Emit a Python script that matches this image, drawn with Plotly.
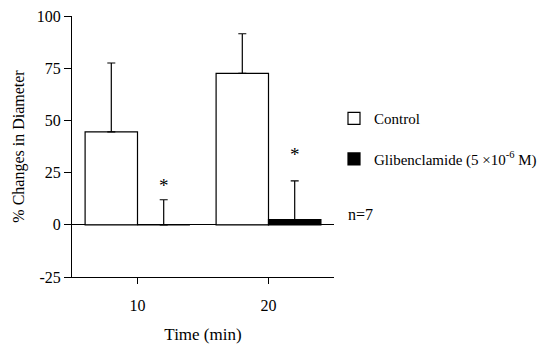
import plotly.graph_objects as go

times = [10, 20]
control = [44.5, 72.5]
control_err = [33, 19]
glib = [0, 2.5]
glib_err = [12, 18.5]
asterisk_y = [20, 34.5]
y_ticks = [-25, 0, 25, 50, 75, 100]
y_tick_labels = ["-25", "0", "25", "50", "75", "100"]
x_ticks = [10, 20]

FONT = "'Liberation Serif', 'Times New Roman', 'DejaVu Serif', serif"

fig = go.Figure()
fig.add_trace(go.Bar(
    x=times, y=control, name="Control", legendgroup="c",
    marker=dict(color="white", line=dict(color="black", width=1.2)),
    error_y=dict(type="data", symmetric=False, array=control_err,
                 arrayminus=[0, 0], color="black", thickness=1.2, width=4),
))
fig.add_trace(go.Bar(
    x=times, y=glib, name="Glibenclamide (5 ×10<sup>-6</sup> M)", legendgroup="g",
    marker=dict(color="black", line=dict(color="black", width=1.2)),
    error_y=dict(type="data", symmetric=False, array=glib_err,
                 arrayminus=[0, 0], color="black", thickness=1.2, width=4),
))

# significance asterisks above glibenclamide error bars
for t, ay in zip(times, asterisk_y):
    fig.add_annotation(x=t + 2, y=ay, text="*", showarrow=False,
                       yanchor="middle", yshift=-2,
                       font=dict(family=FONT, size=19, color="black"))

fig.add_annotation(xref="paper", yref="paper", x=1.045, y=0.24,
                   xanchor="left", yanchor="middle", text="n=7", showarrow=False,
                   font=dict(family=FONT, size=16, color="black"))

fig.update_layout(
    width=545, height=346,
    margin=dict(l=72, r=211, t=16, b=69, autoexpand=False),
    paper_bgcolor="white", plot_bgcolor="white",
    barmode="group", bargap=0.2, bargroupgap=0,
    font=dict(family=FONT, size=16, color="black"),
    legend=dict(x=1.0, y=0.67, xanchor="left", yanchor="top",
                font=dict(family=FONT, size=15), tracegroupgap=18,
                traceorder="grouped", bgcolor="rgba(0,0,0,0)"),
    xaxis=dict(range=[5, 25], tickvals=x_ticks, ticks="outside", ticklen=6,
               tickcolor="black", showline=True, linecolor="black", linewidth=1,
               showgrid=False, zeroline=False, ticklabelstandoff=8, automargin=False,
               title=dict(text="Time (min)", standoff=14,
                          font=dict(family=FONT, size=17))),
    yaxis=dict(range=[-25, 100], tickvals=y_ticks, ticktext=y_tick_labels,
               ticks="outside", ticklen=7,
               tickcolor="black", showline=True, linecolor="black", linewidth=1,
               showgrid=False, zeroline=True, zerolinecolor="black", zerolinewidth=1,
               automargin=False,
               title=dict(text="% Changes in Diameter", standoff=8,
                          font=dict(family=FONT, size=16))),
)

fig.write_html("out.html", config={"displayModeBar": False},
               post_script="document.body.style.margin='0';")
